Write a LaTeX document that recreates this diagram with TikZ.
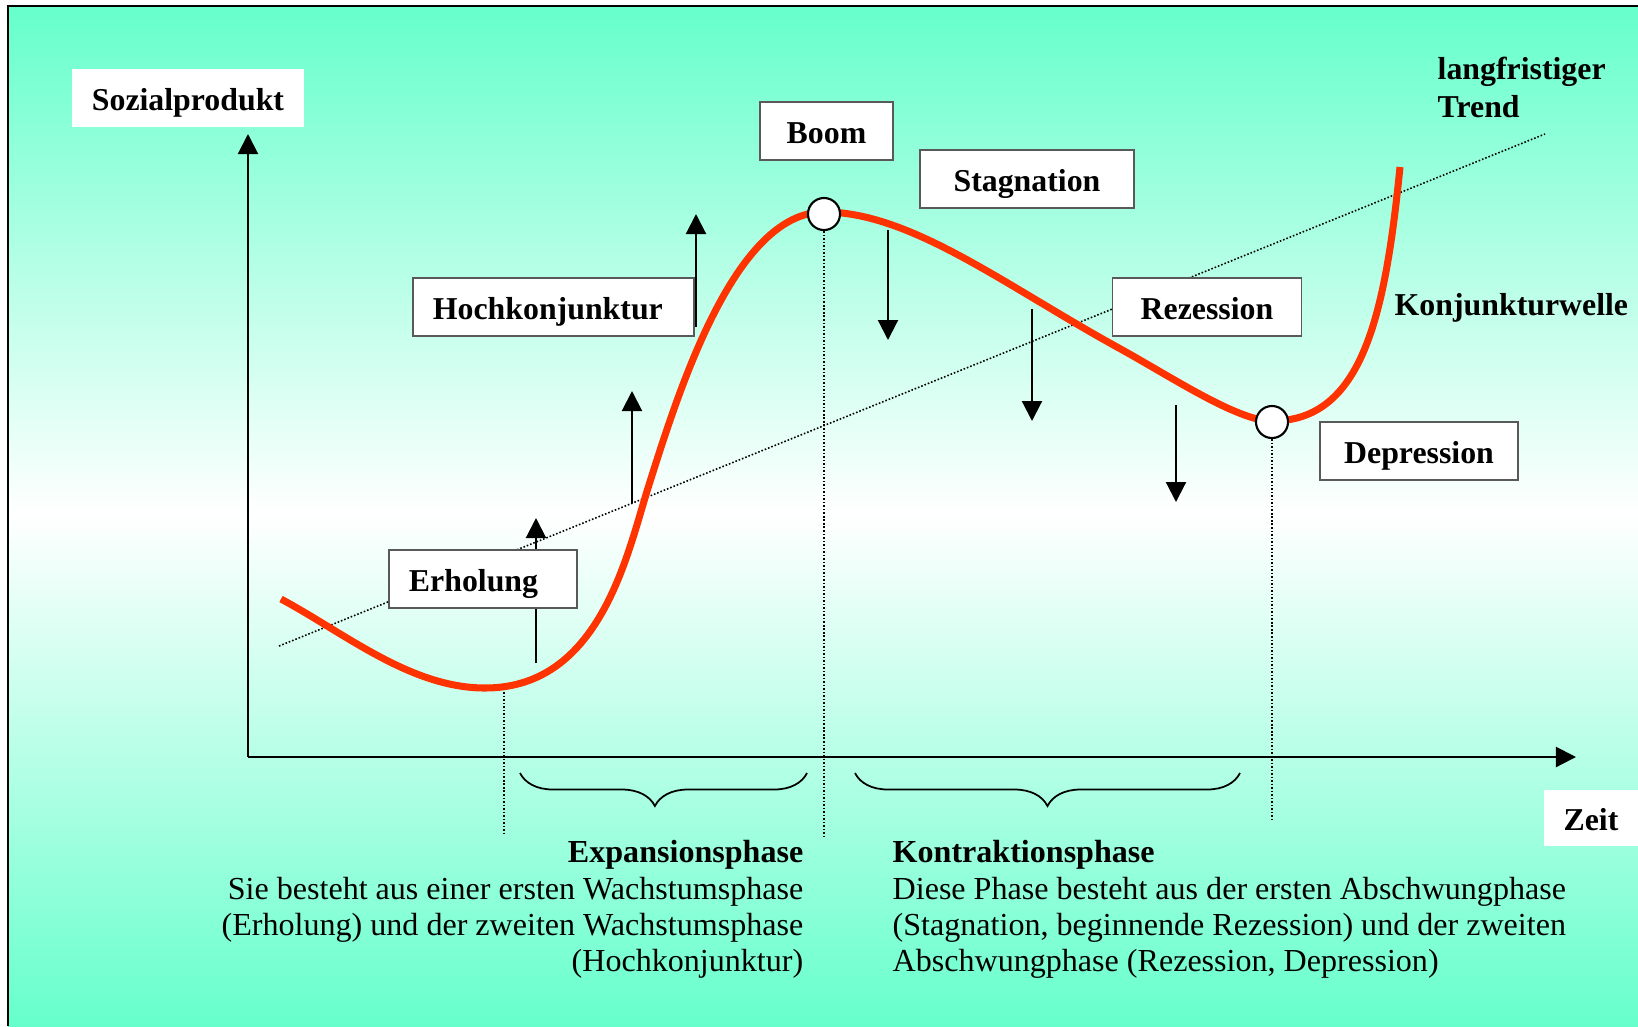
\documentclass[tikz,border=0pt]{standalone}
\usepackage{fontspec}
\setmainfont{Liberation Serif}
\usepackage{tikz}
\usetikzlibrary{arrows.meta, decorations.pathreplacing}
\definecolor{aqua}{RGB}{102,255,204}
\definecolor{wave}{RGB}{255,51,0}

\begin{document}
\begin{tikzpicture}[x=0.01cm, y=-0.01cm,
    font=\fontsize{9.12pt}{10.3pt}\selectfont,
    phase/.style={draw=black!65, line width=0.5pt, fill=white, inner sep=0pt,
        minimum height=0.58cm, text height=0.3cm, text depth=0.06cm, font=\fontsize{9.05pt}{10.3pt}\selectfont\bfseries},
    plainbox/.style={phase, draw=none},
    marker/.style={-{Triangle[width=0.2cm, length=0.2cm]}, line width=0.6pt},
    guide/.style={line width=0.45pt, dash pattern=on 0.45pt off 0.55pt},
    point/.style={circle, draw, line width=0.6pt, fill=white, minimum size=0.32cm, inner sep=0pt},
    phasebrace/.style={decorate, line width=0.5pt, decoration={brace, amplitude=0.33cm, #1}}]
    \useasboundingbox (0,0) rectangle (1638,1026);

    % background and frame
    \fill[white] (0,0) rectangle (1638,1026);
    \shade[top color=aqua, bottom color=white] (8,6) rectangle (1638,514);
    \shade[top color=white, bottom color=aqua] (8,513) rectangle (1638,1026);
    \draw[line width=0.7pt] (8,1026) -- (8,6) -- (1638,6);

    % axes
    \coordinate (origin) at (248,757);
    \coordinate (ytip) at (248,134);
    \coordinate (xtip) at (1576,757);
    \draw[marker] (origin) -- (ytip);
    \draw[marker] (origin) -- (xtip);

    % trend and guides
    \coordinate (trendstart) at (279,646);
    \coordinate (trendend) at (1545,134);
    \draw[guide] (trendstart) -- (trendend);
    \coordinate (tal) at (504,692);
    \draw[guide] (tal) -- (504,836);

    % wave
    \draw[wave, line width=2pt] (281,599) .. controls (346,634) and (411,688) .. (485,688)
        .. controls (600,688) and (627,555) .. (648,488)
        .. controls (678,393) and (734,212) .. (824,212)
        .. controls (910,212) and (1003,284) .. (1117,347)
        .. controls (1170,376) and (1237,421) .. (1272,421)
        .. controls (1362,421) and (1385,317) .. (1400,167);

    \node[point] (boompt) at (824,214) {};
    \node[point] (tiefpt) at (1272,422) {};
    \draw[guide] (boompt.south) -- (824,836);
    \draw[guide] (tiefpt.south) -- (1272,822);

    % up and down arrows
    \foreach \x/\from/\to in {536/663/518, 632/503/391, 696/327/214,
        888/230/340, 1032/309/421, 1176/405/502}
        \draw[marker] (\x,\from) -- (\x,\to);

    % braces
    \draw[phasebrace={aspect=0.53}] (807,773) -- (520,773);
    \draw[phasebrace={aspect=0.5}] (1240,773) -- (855,773);

    % labels
    \node[plainbox, minimum width=2.32cm, minimum height=0.57cm] (sozial) at (188,98) {Sozialprodukt};
    \node[plainbox, minimum width=0.94cm, minimum height=0.56cm] (zeit) at (1591,818) {Zeit};
    \node[phase, minimum width=1.33cm] (boom) at (826.5,131) {Boom};
    \node[phase, minimum width=2.14cm] (stagnation) at (1027,179) {Stagnation};
    \node[phase, text width=2.41cm, inner xsep=0.2cm, align=left] (hoch) at (553.5,307) {Hochkonjunktur};
    \node[phase, minimum width=1.89cm] (rezession) at (1207,307) {Rezession};
    \node[phase, minimum width=1.98cm] (depression) at (1419,451) {Depression};
    \node[phase, text width=1.48cm, inner xsep=0.2cm, align=left] (erholung) at (483,579) {Erholung};

    \node[anchor=north west, inner sep=0pt, align=left, font=\fontsize{9.05pt}{10.8pt}\selectfont\bfseries] (trend) at (1437,56) {langfristiger\\Trend};
    \node[anchor=base west, inner sep=0pt, font=\fontsize{9.05pt}{10.3pt}\selectfont\bfseries] (welle) at (1394,315) {Konjunkturwelle};

    \node[anchor=north east, inner sep=0pt, align=right] (expansion) at (804,840)
        {\textbf{Expansionsphase}\\Sie besteht aus einer ersten Wachstumsphase\\(Erholung) und der zweiten Wachstumsphase\\(Hochkonjunktur)};
    \node[anchor=north west, inner sep=0pt, align=left] (kontraktion) at (892,840)
        {\textbf{Kontraktionsphase}\\Diese Phase besteht aus der ersten Abschwungphase\\(Stagnation, beginnende Rezession) und der zweiten\\Abschwungphase (Rezession, Depression)};
\end{tikzpicture}
\end{document}
